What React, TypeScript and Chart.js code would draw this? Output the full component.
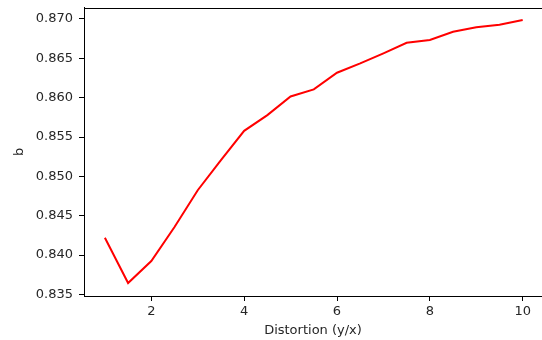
import React, { useEffect, useRef } from "react";
import { Chart, registerables } from "chart.js";

Chart.register(...registerables);

const distortion = [1, 1.5, 2, 2.5, 3, 3.5, 4, 4.5, 5, 5.5, 6, 6.5, 7, 7.5, 8, 8.5, 9, 9.5, 10];
const bValues = [
  0.8422, 0.83645, 0.83925, 0.84357, 0.84824, 0.85206, 0.85579, 0.85779, 0.86015, 0.86105,
  0.86317, 0.86436, 0.86564, 0.86698, 0.86733, 0.86838, 0.86894, 0.86927, 0.86987,
];
const xTicks = [2, 4, 6, 8, 10];
const yTicks = [0.835, 0.84, 0.845, 0.85, 0.855, 0.86, 0.865, 0.87];
const xTitle = "Distortion (y/x)";
const yTitle = "b";

const FONT = { family: "'DejaVu Sans', sans-serif", size: 13 };
const INK = "#262626";

const topSpine = {
  id: "topSpine",
  afterDraw(chart: any) {
    const { ctx, chartArea } = chart;
    ctx.save();
    ctx.strokeStyle = "#000";
    ctx.lineWidth = 1;
    ctx.beginPath();
    ctx.moveTo(chartArea.left, Math.round(chartArea.top) + 0.5);
    ctx.lineTo(chartArea.right, Math.round(chartArea.top) + 0.5);
    ctx.stroke();
    ctx.restore();
  },
};

export default function App() {
  const ref = useRef<HTMLCanvasElement>(null);
  useEffect(() => {
    if (!ref.current) return;
    const chart = new Chart(ref.current, {
      type: "line",
      data: {
        datasets: [
          {
            data: distortion.map((x, i) => ({ x, y: bValues[i] })),
            borderColor: "#ff0000",
            borderWidth: 2,
            pointRadius: 0,
            tension: 0,
            fill: false,
          },
        ],
      },
      options: {
        responsive: false,
        animation: false,
        layout: { padding: { left: 0, right: 0, top: 7.5, bottom: 0 } },
        plugins: { legend: { display: false }, tooltip: { enabled: false } },
        scales: {
          x: {
            type: "linear",
            min: 0.55,
            max: 10.416,
            afterBuildTicks: (s: any) => {
              s.ticks = xTicks.map((v) => ({ value: v }));
            },
            afterFit: (s: any) => {
              s.height = 44;
              s.paddingLeft = 0;
              s.paddingRight = 0;
            },
            grid: { drawOnChartArea: false, drawTicks: true, tickLength: 5, color: "#000" },
            border: { display: true, color: "#000", width: 1 },
            ticks: { font: FONT, color: INK, padding: 3, maxRotation: 0, callback: (v: any) => String(v) },
            title: { display: true, text: xTitle, font: FONT, color: INK, padding: { top: 0, bottom: 2 } },
          },
          y: {
            type: "linear",
            min: 0.8348,
            max: 0.87146,
            afterBuildTicks: (s: any) => {
              s.ticks = yTicks.map((v) => ({ value: v }));
            },
            afterFit: (s: any) => {
              s.width = 84;
              s.paddingTop = 0;
              s.paddingBottom = 0;
            },
            grid: { drawOnChartArea: false, drawTicks: true, tickLength: 5, color: "#000" },
            border: { display: true, color: "#000", width: 1 },
            ticks: { font: FONT, color: INK, padding: 6, callback: (v: any) => Number(v).toFixed(3) },
            title: { display: true, text: yTitle, font: FONT, color: INK, padding: { top: 12, bottom: 0 } },
          },
        },
      },
      plugins: [topSpine],
    });
    return () => chart.destroy();
  }, []);
  return (
    <div style={{ position: "fixed", left: 0, top: 0, width: 542, height: 340, background: "#fff" }}>
      <canvas ref={ref} width={542} height={340} style={{ display: "block" }} />
    </div>
  );
}
